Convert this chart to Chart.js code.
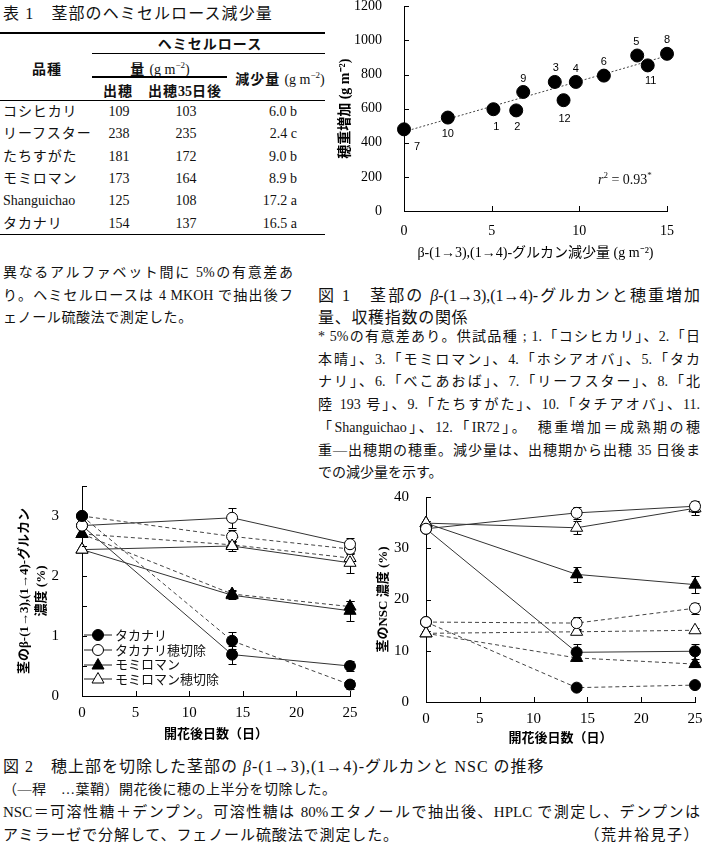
<!DOCTYPE html>
<html lang="ja">
<head>
<meta charset="utf-8">
<title>茎部のβ-グルカンと穂重増加・NSCの推移</title>
<script src="https://cdn.jsdelivr.net/npm/chart.js@4.4.1/dist/chart.umd.min.js"></script>
<style>
  html, body { margin: 0; padding: 0; background: #fff; }
  body {
    position: relative; width: 705px; height: 850px; overflow: hidden;
    font-family: "Liberation Serif", "Noto Sans CJK JP", serif; color: #111;
  }
  .t { position: absolute; white-space: nowrap; line-height: 20px; height: 20px; }
  .c { transform: translateX(-50%); }
  .r { transform: translateX(-100%); }
  .j { text-align: justify; text-align-last: justify; white-space: normal; overflow: hidden; }
  .rule { position: absolute; background: #000; }
  .hd { font-family: "Noto Sans CJK JP", sans-serif; font-weight: 700; font-size: 14px; letter-spacing: 1px; }
  .unit { font-family: "Liberation Serif", "Noto Sans CJK JP", serif; font-weight: 400; letter-spacing: 0; }
  sup { font-size: 9px; line-height: 0; vertical-align: 6px; }
  canvas { position: absolute; }
  .legend { position: absolute; left: 84px; top: 628px; font-family: "Noto Sans CJK JP", sans-serif; font-size: 13px; }
  .legend div { height: 14.7px; line-height: 14.7px; display: flex; align-items: center; white-space: nowrap; }
  .legend svg { margin-right: 2px; }
</style>
</head>
<body>

<!-- 表1 -->
<div class="t" style="left:3px; top:4px; font-size:16px; letter-spacing:1.1px;">表 1　茎部のヘミセルロース減少量</div>
<div class="rule" style="left:0; top:32px; width:325px; height:2px;"></div>
<div class="t c hd" style="left:210px; top:33px;">ヘミセルロース</div>
<div class="rule" style="left:92px; top:53px; width:233px; height:1px;"></div>
<div class="t c hd" style="left:47px; top:58px;">品種</div>
<div class="t c hd" style="left:160px; top:58px;">量 <span class="unit">(g m<sup>−2</sup>)</span></div>
<div class="rule" style="left:92px; top:76px; width:135px; height:2px;"></div>
<div class="t c hd" style="left:280px; top:68px;">減少量 <span class="unit">(g m<sup>−2</sup>)</span></div>
<div class="t c hd" style="left:118px; top:80px;">出穂</div>
<div class="t c hd" style="left:185px; top:80px;">出穂<span class="unit" style="font-weight:700">35</span>日後</div>
<div class="rule" style="left:0; top:100px; width:325px; height:1px;"></div>
<div id="tableRows"></div>
<div class="rule" style="left:0; top:234px; width:325px; height:1px;"></div>

<div class="t j" style="left:3px; top:263px; width:290px; font-size:14px;">異なるアルファベット間に 5%の有意差あ</div>
<div class="t j" style="left:3px; top:286px; width:290px; font-size:14px;">り。ヘミセルロースは 4 MKOH で抽出後フ</div>
<div class="t" style="left:3px; top:308px; font-size:14px; letter-spacing:0.6px;">ェノール硫酸法で測定した。</div>

<!-- 図1 キャプション -->
<div class="t j" style="left:318px; top:286px; width:382px; font-size:16px;">図 1　茎部の <i>β</i>-(1→3),(1→4)-グルカンと穂重増加</div>
<div class="t" style="left:318px; top:308px; font-size:16px; letter-spacing:0.7px;">量、収穫指数の関係</div>
<div id="fig1Notes"></div>

<!-- 図2 キャプション -->
<div class="t" style="left:3px; top:757px; font-size:16px; letter-spacing:1px;">図 2　穂上部を切除した茎部の <i>β</i>-(1→3),(1→4)-グルカンと NSC の推移</div>
<div class="t" style="left:3px; top:780px; font-size:14px; letter-spacing:0.5px;">（―稈　…葉鞘）開花後に穂の上半分を切除した。</div>
<div class="t j" style="left:3px; top:802px; width:697px; font-size:15px;">NSC＝可溶性糖＋デンプン。可溶性糖は 80%エタノールで抽出後、HPLC で測定し、デンプンは</div>
<div class="t" style="left:3px; top:825px; font-size:15px; letter-spacing:0.9px;">アミラーゼで分解して、フェノール硫酸法で測定した。</div>
<div class="t r" style="left:700px; top:825px; font-size:15px; letter-spacing:1.5px;">（荒井裕見子）</div>

<canvas id="chartScatter" width="375" height="291" style="left:330px; top:-16px;"></canvas>
<div class="t" style="left:598px; top:170px; font-size:14px;"><i>r</i><sup>2</sup> = 0.93<sup>*</sup></div>

<canvas id="chartGlucan" width="360" height="288" style="left:0px; top:462px;"></canvas>
<div class="legend" id="legendGlucan"></div>

<canvas id="chartNsc" width="350" height="276" style="left:355px; top:479px;"></canvas>

<script>
// --- 表1 データ ---
const varieties = ["コシヒカリ", "リーフスター", "たちすがた", "モミロマン", "Shanguichao", "タカナリ"];
const hemiHeading = [109, 238, 181, 173, 125, 154];
const hemiAfter35 = [103, 235, 172, 164, 108, 137];
const hemiDecrease = [6.0, 2.4, 9.0, 8.9, 17.2, 16.5];
const hemiLetters = ["b", "c", "b", "b", "a", "a"];

// --- 図1 データ (品種番号 1〜12) ---
const varietyNumbers = ["1", "2", "3", "4", "5", "6", "7", "8", "9", "10", "11", "12"];
const glucanDecrease = [5.1, 6.4, 8.6, 9.8, 13.3, 11.4, 0.0, 15.0, 6.8, 2.5, 13.9, 9.1];
const earWeightGain = [597, 590, 757, 757, 912, 794, 479, 922, 698, 548, 854, 650];
const trendX = [0, 15];
const trendY = [465, 910];
const xTicksScatter = [0, 5, 10, 15];
const yTicksScatter = [0, 200, 400, 600, 800, 1000, 1200];

// --- 図2 データ ---
const days = [0, 14, 25];
const seriesNames = ["タカナリ", "タカナリ穂切除", "モミロマン", "モミロマン穂切除"];
// β-グルカン濃度 (%)  稈 / 葉鞘
const glucanCulm = [
    [2.84, 0.69, 0.50],
    [2.84, 2.97, 2.53],
    [2.44, 1.68, 1.42],
    [2.44, 2.50, 2.22],
];
const glucanSheath = [
    [3.00, 0.92, 0.19],
    [3.00, 2.66, 2.45],
    [2.70, 1.70, 1.49],
    [2.70, 2.52, 2.30],
];
const glucanCulmErr = [
    [0, 0.15, 0.09],
    [0, 0.17, 0.10],
    [0, 0.07, 0.17],
    [0, 0.08, 0.17],
];
const glucanSheathErr = [
    [0, 0.14, 0.08],
    [0, 0.10, 0.08],
    [0, 0.06, 0.10],
    [0, 0.06, 0.08],
];
// NSC濃度 (%)  稈 / 葉鞘
const nscCulm = [
    [33.8, 9.7, 9.9],
    [33.8, 36.9, 38.2],
    [34.9, 24.9, 22.9],
    [34.9, 34.0, 37.8],
];
const nscSheath = [
    [15.6, 2.8, 3.3],
    [15.6, 15.4, 18.3],
    [13.4, 8.6, 7.4],
    [13.4, 13.7, 14.0],
];
const nscCulmErr = [
    [0.5, 1.7, 1.5],
    [0.5, 1.2, 1.1],
    [0.5, 1.4, 1.6],
    [0.5, 1.3, 1.3],
];
const nscSheathErr = [
    [0.8, 0.5, 0.4],
    [0.8, 1.1, 1.1],
    [0.5, 0.5, 0.5],
    [0.5, 0.4, 0.4],
];

// --- 見た目の設定 ---
const labelOffsets = [[3, 18], [1, 17], [1, -14], [0, -13], [-1, -14], [0, -14],
                      [13, 18], [0, -14], [0, -13], [0, 16], [3, 16], [1, 19]];
const seriesMarker = ["circle", "circle", "triangle", "triangle"];
const seriesFill = ["#000", "#fff", "#000", "#fff"];
const serif = '"Liberation Serif", "Noto Sans CJK JP", serif';
const gothic = '"Liberation Serif", "Noto Sans CJK JP", sans-serif';

// --- 表の行 ---
const rowsBox = document.getElementById("tableRows");
varieties.forEach((v, i) => {
    const cy = 102 + i * 22.3;
    const latin = /^[A-Za-z]/.test(v);
    rowsBox.insertAdjacentHTML("beforeend", `
        <div class="t" style="left:3px; top:${cy}px; font-size:14px; letter-spacing:${latin ? 0 : 0.9}px;
             font-family:${latin ? serif : '"Noto Sans CJK JP", sans-serif'}; font-weight:500;">${v}</div>
        <div class="t c" style="left:119px; top:${cy}px; font-size:14px;">${hemiHeading[i]}</div>
        <div class="t c" style="left:186px; top:${cy}px; font-size:14px;">${hemiAfter35[i]}</div>
        <div class="t r" style="left:297px; top:${cy}px; font-size:14px;">${hemiDecrease[i].toFixed(1)} ${hemiLetters[i]}</div>
    `);
});

// --- 図1 注記 ---
const fig1Notes = [
    "* 5%の有意差あり。供試品種 ; 1.「コシヒカリ」、2.「日",
    "本晴」、3.「モミロマン」、4.「ホシアオバ」、5.「タカ",
    "ナリ」、6.「べこあおば」、7.「リーフスター」、8.「北",
    "陸 193 号」、9.「たちすがた」、10.「タチアオバ」、11.",
    "「Shanguichao」、12.「IR72」。　穂重増加＝成熟期の穂",
    "重―出穂期の穂重。減少量は、出穂期から出穂 35 日後ま",
    "での減少量を示す。",
];
const notesBox = document.getElementById("fig1Notes");
fig1Notes.forEach((line, i) => {
    const last = i === fig1Notes.length - 1;
    notesBox.insertAdjacentHTML("beforeend",
        `<div class="t ${last ? "" : "j"}" style="left:318px; top:${327 + i * 22.7}px; width:382px; font-size:14px;">${line}</div>`);
});

// --- 凡例 ---
const legendBox = document.getElementById("legendGlucan");
seriesNames.forEach((name, i) => {
    const marker = seriesMarker[i] === "circle"
        ? `<circle cx="14" cy="7" r="5.5" fill="${seriesFill[i]}" stroke="#000" stroke-width="1"/>`
        : `<polygon points="14,0.5 20,11 8,11" fill="${seriesFill[i]}" stroke="#000" stroke-width="1"/>`;
    legendBox.insertAdjacentHTML("beforeend",
        `<div><svg width="29" height="14"><line x1="0" y1="7" x2="28" y2="7" stroke="#222" stroke-width="1"/>${marker}</svg>${name}</div>`);
});

// --- プラグイン ---
const innerTicks = {
    id: "innerTicks",
    afterDraw(chart) {
        const { ctx, chartArea: a, scales } = chart;
        ctx.save();
        ctx.strokeStyle = "#000";
        ctx.lineWidth = 1;
        ctx.beginPath();
        scales.x.ticks.forEach((t) => {
            const px = Math.round(scales.x.getPixelForValue(t.value)) + 0.5;
            ctx.moveTo(px, a.bottom);
            ctx.lineTo(px, a.bottom - 5);
        });
        scales.y.ticks.forEach((t) => {
            const py = Math.round(scales.y.getPixelForValue(t.value)) + 0.5;
            ctx.moveTo(a.left, py);
            ctx.lineTo(a.left + 5, py);
        });
        ctx.stroke();
        ctx.restore();
    },
};

const errorBars = {
    id: "errorBars",
    beforeDatasetsDraw(chart) {
        const { ctx, scales: { x, y } } = chart;
        ctx.save();
        ctx.strokeStyle = "#000";
        ctx.lineWidth = 1;
        chart.data.datasets.forEach((ds) => {
            if (!ds.errors) return;
            ds.data.forEach((p, i) => {
                const e = ds.errors[i];
                if (!e) return;
                const px = Math.round(x.getPixelForValue(p.x)) + 0.5;
                const top = Math.round(y.getPixelForValue(p.y + e)) + 0.5;
                const bot = Math.round(y.getPixelForValue(p.y - e)) + 0.5;
                ctx.beginPath();
                ctx.moveTo(px, top); ctx.lineTo(px, bot);
                ctx.moveTo(px - 4, top); ctx.lineTo(px + 4, top);
                ctx.moveTo(px - 4, bot); ctx.lineTo(px + 4, bot);
                ctx.stroke();
            });
        });
        ctx.restore();
    },
};

const pointNumbers = {
    id: "pointNumbers",
    afterDatasetsDraw(chart) {
        const { ctx } = chart;
        const meta = chart.getDatasetMeta(0);
        ctx.save();
        ctx.font = '11px "Liberation Sans", Arial, sans-serif';
        ctx.fillStyle = "#000";
        ctx.textAlign = "center";
        ctx.textBaseline = "middle";
        meta.data.forEach((el, i) => {
            const [dx, dy] = labelOffsets[i];
            ctx.fillText(varietyNumbers[i], el.x + dx, el.y + dy);
        });
        ctx.restore();
    },
};

// 軸の共通設定
function axis(opts) {
    return {
        type: "linear",
        min: opts.min,
        max: opts.max,
        grid: { display: false },
        border: { display: true, color: "#000", width: 1 },
        ticks: {
            stepSize: opts.step,
            color: "#000",
            padding: opts.tickPad,
            font: { family: serif, size: opts.tickSize },
            callback: opts.callback || ((v) => v),
        },
        title: {
            display: true,
            text: opts.title,
            color: "#000",
            padding: opts.titlePad,
            font: { family: gothic, size: opts.titleSize, weight: opts.titleWeight || "bold", lineHeight: 1.3 },
        },
        afterFit: opts.fit,
    };
}

// --- 図1 散布図 ---
new Chart(document.getElementById("chartScatter"), {
    type: "scatter",
    data: {
        datasets: [
            {
                data: glucanDecrease.map((v, i) => ({ x: v, y: earWeightGain[i] })),
                pointRadius: 6.5,
                pointBackgroundColor: "#000",
                pointBorderColor: "#000",
                clip: false,
                order: 0,
            },
            {
                type: "line",
                data: trendX.map((v, i) => ({ x: v, y: trendY[i] })),
                borderColor: "#444",
                borderWidth: 1,
                borderDash: [2, 2],
                pointRadius: 0,
                fill: false,
                order: 1,
            },
        ],
    },
    options: {
        responsive: false,
        animation: false,
        layout: { padding: { top: 0, right: 38, left: 0, bottom: 0 } },
        plugins: { legend: { display: false }, tooltip: { enabled: false } },
        scales: {
            x: axis({
                min: xTicksScatter[0], max: xTicksScatter[xTicksScatter.length - 1], step: 5,
                tickPad: 4, tickSize: 14,
                title: "β-(1→3),(1→4)-グルカン減少量 (g m⁻²)", titleSize: 14, titleWeight: "normal",
                titlePad: { top: 0, bottom: 13 },
                fit: (s) => { s.height = 64; },
            }),
            y: axis({
                min: yTicksScatter[0], max: yTicksScatter[yTicksScatter.length - 1], step: 200,
                tickPad: 14, tickSize: 14,
                title: "穂重増加 (g m⁻²)", titleSize: 14,
                titlePad: { top: 6, bottom: 0 },
                fit: (s) => { s.width = 74; },
            }),
        },
    },
    plugins: [innerTicks, pointNumbers],
});

// --- 図2 折れ線 ---
function lineDatasets(culm, sheath, culmErr, sheathErr, culmOnTop, sheathOnTop) {
    const sets = [];
    seriesNames.forEach((name, i) => {
        const common = {
            pointStyle: seriesMarker[i],
            pointRadius: seriesMarker[i] === "circle" ? 5.5 : 7,
            pointBackgroundColor: seriesFill[i],
            pointBorderColor: "#000",
            pointBorderWidth: 1,
            borderWidth: 1,
            fill: false,
            clip: false,
        };
        sets.push({
            ...common,
            label: name + " 稈",
            data: days.map((d, k) => ({ x: d, y: culm[i][k] })),
            errors: culmErr[i],
            borderColor: "#333",
            order: culmOnTop[i] ? 0 : 1,
        });
        sets.push({
            ...common,
            label: name + " 葉鞘",
            data: days.map((d, k) => ({ x: d, y: sheath[i][k] })),
            errors: sheathErr[i],
            borderColor: "#444",
            borderDash: [4, 3],
            order: sheathOnTop[i] ? 0 : 1,
        });
    });
    return sets;
}

const lineOptions = (yAxis, xTitlePad, xTickPad) => ({
    responsive: false,
    animation: false,
    layout: { padding: { top: 0, right: 10, left: 0, bottom: 0 } },
    plugins: { legend: { display: false }, tooltip: { enabled: false } },
    scales: {
        x: axis({
            min: days[0], max: 25, step: 5,
            tickPad: xTickPad, tickSize: 15,
            title: "開花後日数（日）", titleSize: 13,
            titlePad: xTitlePad.pad,
            fit: (s) => { s.height = xTitlePad.h; },
        }),
        y: yAxis,
    },
});

new Chart(document.getElementById("chartGlucan"), {
    type: "line",
    data: {
        datasets: lineDatasets(glucanCulm, glucanSheath, glucanCulmErr, glucanSheathErr,
            [false, true, false, true], [true, false, true, false]),
    },
    options: lineOptions(
        axis({
            min: 0, max: 3.5, step: 0.5,
            tickPad: 15, tickSize: 15,
            callback: (v) => (Number.isInteger(v) ? v : ""),
            title: ["茎のβ-(1→3),(1→4)-グルカン", "濃度 (%)"], titleSize: 13,
            titlePad: { top: 16, bottom: 0 },
            fit: (s) => { s.width = 82; },
        }),
        { pad: { top: 0, bottom: 7 }, h: 54 }, 0
    ),
    plugins: [innerTicks, errorBars],
});

new Chart(document.getElementById("chartNsc"), {
    type: "line",
    data: {
        datasets: lineDatasets(nscCulm, nscSheath, nscCulmErr, nscSheathErr,
            [false, true, false, true], [false, true, false, true]),
    },
    options: lineOptions(
        axis({
            min: 0, max: 40, step: 10,
            tickPad: 9, tickSize: 15,
            title: "茎のNSC 濃度 (%)", titleSize: 13,
            titlePad: { top: 20, bottom: 0 },
            fit: (s) => { s.width = 71; },
        }),
        { pad: { top: 0, bottom: 8 }, h: 53 }, 0.5
    ),
    plugins: [innerTicks, errorBars],
});
</script>
</body>
</html>
